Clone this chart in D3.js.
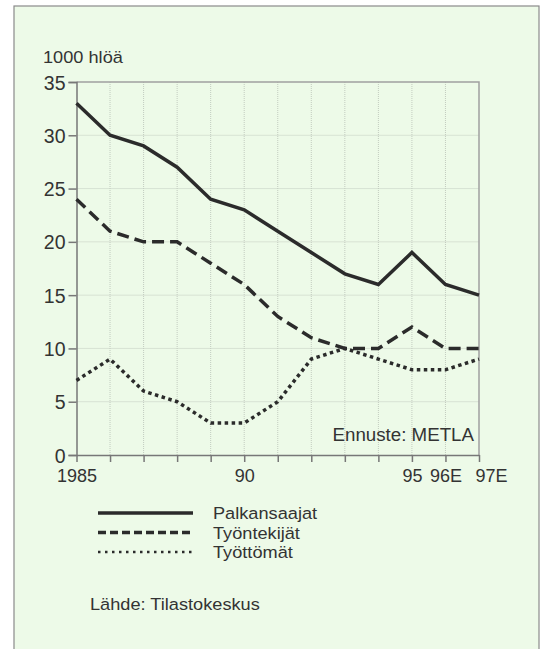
<!DOCTYPE html>
<meta charset="utf-8">
<style>
body { margin: 0; background: #fff; }
text { font-family: "Liberation Sans", Arial, sans-serif; fill: #333; }
.line { fill: none; stroke: #2b2b2b; stroke-width: 3.5px; }
</style>
<body>
<script src="https://cdn.jsdelivr.net/npm/d3@7"></script>
<script>

// data
var years = ["1985","1986","1987","1988","1989","1990","1991","1992","1993","1994","1995","1996E","1997E"];
var tickLabels = ["1985","","","","","90","","","","","95","96E","97E"];
var palkansaajat = [33, 30, 29, 27, 24, 23, 21, 19, 17, 16, 19, 16, 15];
var tyontekijat = [24, 21, 20, 20, 18, 16, 13, 11, 10, 10, 12, 10, 10];
var tyottomat = [7, 9, 6, 5, 3, 3, 5, 9, 10, 9, 8, 8, 9];
var yTicks = [0, 5, 10, 15, 20, 25, 30, 35];

var W = 545, H = 649;
var stretch = 1.07;  // the original lettering is a bit wide
var margin = {top: 82, left: 76.5},
    width = 479 - 76.5,
    height = 455 - 82;

var svg = d3.select("body").append("svg")
    .attr("width", W)
    .attr("height", H);

// panel
svg.append("rect")
    .attr("x", 14).attr("y", 6)
    .attr("width", 525).attr("height", H)
    .attr("fill", "#edfae8")
    .attr("stroke", "#8a8a8a")
    .attr("stroke-width", 1.2);

var g = svg.append("g")
    .attr("transform", "translate(" + margin.left + "," + margin.top + ")");

var x = d3.scalePoint().domain(years).range([0, width]);
var y = d3.scaleLinear().domain([0, 35]).range([height, 0]);

// grid
g.append("g").selectAll("line")
    .data(years.slice(1, -1))
  .enter().append("line")
    .attr("x1", function(d) { return x(d); })
    .attr("x2", function(d) { return x(d); })
    .attr("y1", 0).attr("y2", height)
    .attr("stroke", "#c2cbbf")
    .attr("stroke-width", 1)
    .attr("stroke-dasharray", "1,1");

g.append("g").selectAll("line")
    .data(yTicks.slice(1, -1))
  .enter().append("line")
    .attr("x1", 0).attr("x2", width)
    .attr("y1", function(d) { return y(d); })
    .attr("y2", function(d) { return y(d); })
    .attr("stroke", "#c2cbbf")
    .attr("stroke-width", 1)
    .attr("stroke-dasharray", "1,1");

// frame top and right
g.append("path")
    .attr("d", "M0," + y(35) + "H" + width + "V" + height)
    .attr("fill", "none")
    .attr("stroke", "#a0a0a0")
    .attr("stroke-width", 1.5);

// axes
var yAxis = g.append("g")
    .call(d3.axisLeft(y).tickValues(yTicks).tickSize(8).tickPadding(3));
yAxis.select(".domain").attr("stroke", "#777").attr("stroke-width", 1.5);
yAxis.selectAll(".tick line").attr("stroke", "#777").attr("stroke-width", 1.5);
yAxis.selectAll("text")
    .style("font-size", "19.5px").attr("fill", "#333")
    .attr("x", -11).attr("dy", "0.36em");

var xAxis = g.append("g")
    .attr("transform", "translate(0," + height + ")")
    .call(d3.axisBottom(x).tickSize(7).tickSizeOuter(0).tickPadding(5)
      .tickFormat(function(d, i) { return tickLabels[i]; }));
xAxis.select(".domain").attr("stroke", "#777").attr("stroke-width", 1.5);
xAxis.selectAll(".tick line").attr("stroke", "#777").attr("stroke-width", 1.5);
xAxis.selectAll("text")
    .style("font-size", "18px").attr("fill", "#333")
    .attr("y", 14).attr("dy", "0.71em")
    .attr("dx", function(d, i) { return i == 12 ? 12 : 0; });

// lines
var series = [
  {values: palkansaajat, dash: null},
  {values: tyontekijat, dash: "12,6"},
  {values: tyottomat, dash: "3.5,3.5"}
];

var line = d3.line()
    .x(function(d, i) { return x(years[i]); })
    .y(function(d) { return y(d); });

series.forEach(function(s) {
  g.append("path")
      .datum(s.values)
      .attr("class", "line")
      .attr("stroke-dasharray", s.dash)
      .attr("d", line);
});

function label(px, py, size, txt, anchor) {
  svg.append("text")
      .attr("transform", "translate(" + px + "," + py + ") scale(" + stretch + ",1)")
      .attr("text-anchor", anchor || "start")
      .style("font-size", size + "px")
      .text(txt);
}

// texts
label(43, 63, 17, "1000 hlöä");
label(474, 441, 17.5, "Ennuste: METLA", "end");

// legend
var legendNames = ["Palkansaajat", "Työntekijät", "Työttömät"];
var legend = svg.append("g").selectAll("g")
    .data(series)
  .enter().append("g")
    .attr("transform", function(d, i) { return "translate(0," + (513 + i * 19.5) + ")"; });

legend.append("line")
    .attr("x1", 98).attr("x2", 193)
    .attr("stroke", "#2b2b2b")
    .attr("stroke-width", function(d, i) { return i == 2 ? 2.5 : 3.5; })
    .attr("stroke-dasharray", function(d, i) { return i == 1 ? "8,4" : (i == 2 ? "2.5,4.5" : null); });

legend.append("text")
    .attr("transform", "translate(213,6) scale(" + stretch + ",1)")
    .style("font-size", "17px")
    .text(function(d, i) { return legendNames[i]; });

label(90, 610, 17, "Lähde: Tilastokeskus");

</script>
</body>
